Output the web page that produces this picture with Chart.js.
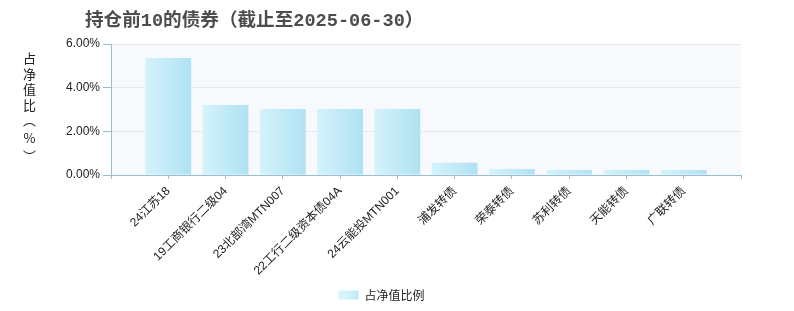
<!DOCTYPE html>
<html>
<head>
<meta charset="utf-8">
<script src="https://cdn.jsdelivr.net/npm/chart.js@4.4.1/dist/chart.umd.min.js"></script>
<style>
  html, body { margin: 0; padding: 0; background: #ffffff; }
  #wrap { position: relative; width: 794px; height: 311px; overflow: hidden; }
  #chart { position: absolute; left: 0; top: 0; }
  #title { position: absolute; left: 85px; top: 9px; height: 26px; line-height: 26px;
    font-family: "Liberation Mono", "Noto Sans CJK SC", sans-serif; font-weight: bold; font-size: 18.6px; color: #4d4d4d; white-space: nowrap; }
  #ytitle { position: absolute; left: 23px; top: 52px; writing-mode: vertical-rl; text-orientation: upright;
    font-family: "Noto Sans CJK SC", sans-serif; font-size: 13px; letter-spacing: 2.5px; color: #222; line-height: 13px; }
  #ytitle .p { letter-spacing: 5px; }
</style>
</head>
<body>
<div id="wrap">
  <canvas id="chart" width="794" height="311"></canvas>
  <div id="title">持仓前10的债券（截止至2025-06-30）</div>
  <div id="ytitle">占净值比<span class="p">（%）</span></div>
</div>
<script>
const categories = ['24江苏18', '19工商银行二级04', '23北部湾MTN007', '22工行二级资本债04A', '24云能投MTN001', '浦发转债', '荣泰转债', '苏利转债', '天能转债', '广联转债'];
const values = [5.36, 3.21, 3.02, 3.02, 3.02, 0.56, 0.27, 0.23, 0.23, 0.23];
const yTicks = [0, 2, 4, 6];
const seriesName = '占净值比例';

const labels = [''].concat(categories, ['']);
const data = [null].concat(values, [null]);

const COLOR_L = '#d4f3fb';
const COLOR_R = '#afe2f3';
const AXIS = '#9bbdd0';

const plotBg = {
  id: 'plotBg',
  beforeDraw(chart) {
    const a = chart.chartArea; if (!a) return;
    const c = chart.ctx; c.save(); c.fillStyle = '#f7f9fc';
    c.fillRect(a.left, a.top, a.right - a.left, a.bottom - a.top); c.restore();
  }
};

function barGradient(ctx) {
  const chart = ctx.chart;
  const xs = chart.scales.x;
  if (!xs || !chart.chartArea || ctx.dataIndex === undefined) return COLOR_R;
  const cx = xs.getPixelForValue(ctx.dataIndex);
  const step = xs.getPixelForValue(1) - xs.getPixelForValue(0);
  const hw = step * 0.4;
  const g = chart.ctx.createLinearGradient(cx - hw, 0, cx + hw, 0);
  g.addColorStop(0, COLOR_L); g.addColorStop(1, COLOR_R);
  return g;
}

const font = { family: '"Liberation Sans", "Noto Sans CJK SC", sans-serif', size: 12 };

new Chart(document.getElementById('chart'), {
  type: 'bar',
  data: {
    labels: labels,
    datasets: [{
      label: seriesName,
      data: data,
      backgroundColor: barGradient,
      borderWidth: 0,
      barPercentage: 0.8,
      categoryPercentage: 1.0
    }]
  },
  options: {
    responsive: false,
    devicePixelRatio: 1,
    animation: false,
    layout: { padding: { top: 44, right: 53, left: 22, bottom: 0 } },
    plugins: {
      title: { display: false },
      tooltip: { enabled: false },
      legend: {
        position: 'bottom',
        labels: {
          boxWidth: 20, boxHeight: 9, padding: 3, color: '#222',
          font: { family: '"Noto Sans CJK SC", sans-serif', size: 12 },
          generateLabels(chart) {
            const cx = chart.width / 2 + 4;
            const g = chart.ctx.createLinearGradient(cx - 54, 0, cx - 34, 0);
            g.addColorStop(0, COLOR_L); g.addColorStop(1, COLOR_R);
            return [{ text: seriesName, fillStyle: g, strokeStyle: 'rgba(0,0,0,0)', lineWidth: 0, datasetIndex: 0, fontColor: '#222' }];
          }
        }
      }
    },
    scales: {
      x: {
        type: 'category',
        offset: false,
        grid: { display: true, drawOnChartArea: false, drawTicks: true, tickLength: 4, tickColor: AXIS, offset: false },
        border: { display: true, color: AXIS },
        ticks: { autoSkip: false, maxRotation: 45, minRotation: 45, padding: 5, color: '#222', font: font },
        afterFit(scale) { scale.height = 111; }
      },
      y: {
        min: 0, max: 6,
        afterBuildTicks(scale) { scale.ticks = yTicks.map(v => ({ value: v })); },
        grid: { color: '#e4eaf1', tickLength: 8, tickColor: AXIS },
        border: { display: true, color: AXIS },
        ticks: { padding: 3, color: '#222', font: font, callback: v => v.toFixed(2) + '%' },
        afterFit(scale) { scale.width = 89; }
      }
    }
  },
  plugins: [plotBg]
});
</script>
</body>
</html>
